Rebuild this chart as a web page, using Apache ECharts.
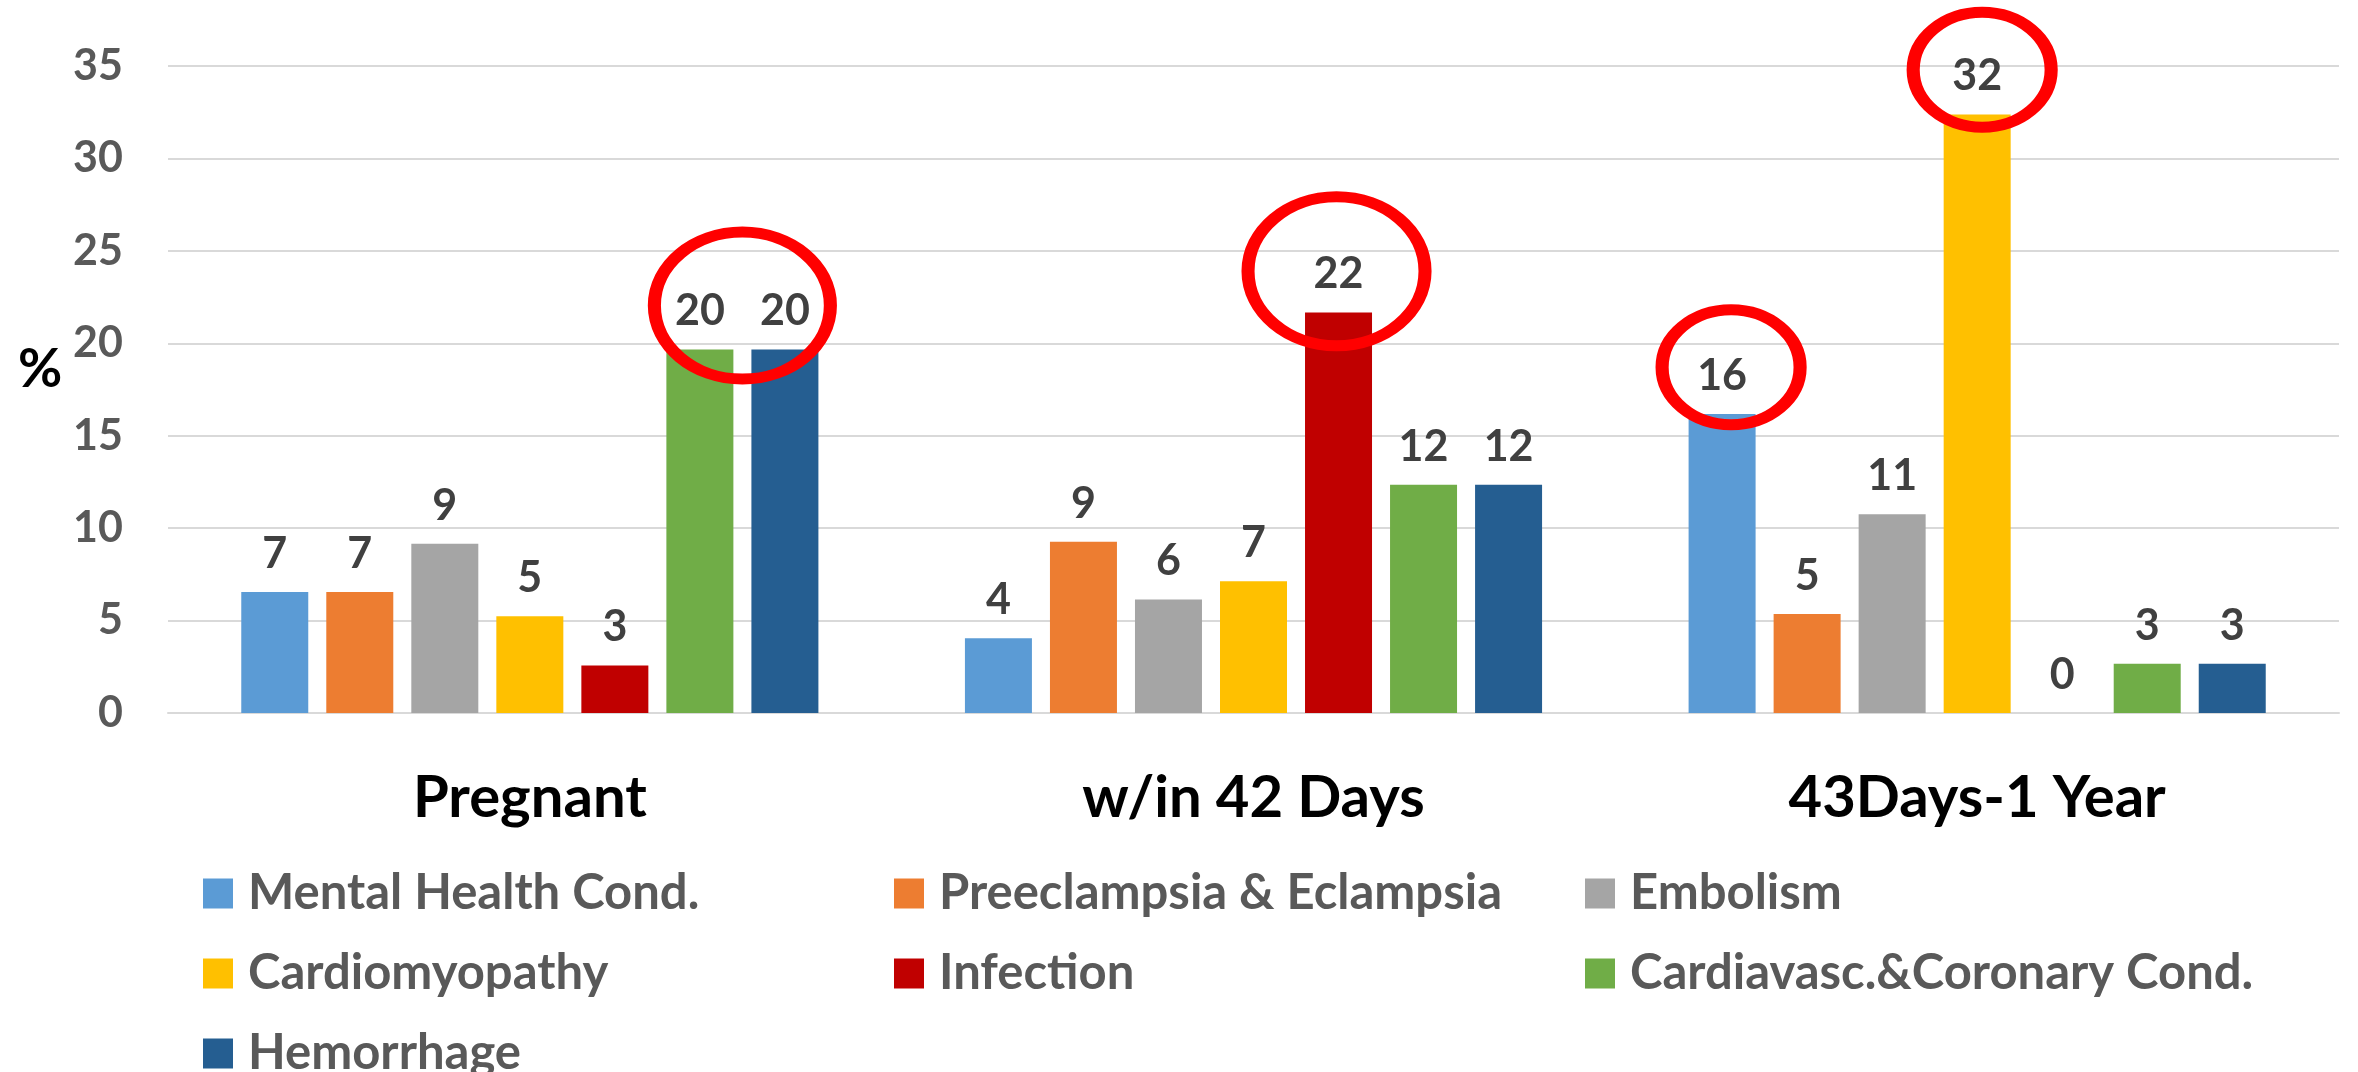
<!DOCTYPE html>
<html>
<head>
<meta charset="utf-8">
<script src="https://cdn.jsdelivr.net/npm/echarts@6/dist/echarts.min.js"></script>
<style>
  html, body { margin: 0; padding: 0; background: #fff; }
  #chart { width: 2358px; height: 1072px; }
</style>
</head>
<body>
<div id="chart"></div>
<script>
// data (labels show the rounded value)
const categories = ['Pregnant', 'w/in 42 Days', '43Days-1 Year'];
const mentalHealth = [6.55, 4.04, 16.17];
const preeclampsia = [6.55, 9.26, 5.35];
const embolism = [9.15, 6.14, 10.75];
const cardiomyopathy = [5.24, 7.13, 32.38];
const infection = [2.57, 21.67, 0];
const cardiovasc = [19.67, 12.35, 2.67];
const hemorrhage = [19.67, 12.35, 2.67];
const yTicks = [0, 5, 10, 15, 20, 25, 30, 35];

const FONT = 'Lato';
const barW = 67;
const gapPx = 18;
const ellipse = 'path://M0,50 C0,22.4 22.4,0 50,0 C77.6,0 100,22.4 100,50 C100,77.6 77.6,100 50,100 C22.4,100 0,77.6 0,50 Z';

const chart = echarts.init(document.getElementById('chart'));

const ring = (coord, size, offset) => ({
  coord,
  symbol: ellipse,
  symbolSize: size,
  symbolOffset: [offset, 0],
  itemStyle: { color: 'rgba(0,0,0,0)', borderColor: '#FF0000', borderWidth: 12 },
  label: { show: false }
});

const bar = (name, data, color, rings) => ({
  name,
  type: 'bar',
  data,
  barWidth: barW,
  barGap: (gapPx / barW * 100).toFixed(1) + '%',
  itemStyle: { color },
  label: {
    show: true,
    position: 'top',
    distance: 17,
    color: '#404040',
    fontFamily: FONT,
    fontWeight: 'bold',
    fontSize: 43,
    lineHeight: 42,
    formatter: (p) => Math.round(p.value)
  },
  markPoint: rings ? { silent: true, z: 10, data: rings } : undefined
});

const legendText = {
  color: '#595959',
  fontFamily: FONT,
  fontWeight: 'bold',
  fontSize: 49,
  padding: [0, 0, 0, 10]
};
const legendBase = {
  orient: 'vertical',
  top: 864,
  height: 320,
  icon: 'rect',
  itemWidth: 30,
  itemHeight: 30,
  itemGap: 31,
  selectedMode: false,
  textStyle: legendText
};

chart.setOption({
  animation: false,
  backgroundColor: '#fff',
  grid: { left: 168, right: 19, top: 66, bottom: 359 },
  graphic: [{
    type: 'text',
    left: 18,
    top: 343,
    style: { text: '%', fontFamily: FONT, fontWeight: 'bold', fontSize: 54, fill: '#000' }
  }],
  legend: [
    Object.assign({ left: 198, data: ['Mental Health Cond.', 'Cardiomyopathy', 'Hemorrhage'] }, legendBase),
    Object.assign({ left: 889, data: ['Preeclampsia & Eclampsia', 'Infection'] }, legendBase),
    Object.assign({ left: 1580, data: ['Embolism', 'Cardiavasc.&Coronary Cond.'] }, legendBase)
  ],
  xAxis: {
    type: 'category',
    data: categories,
    axisLine: { show: true, lineStyle: { color: '#d9d9d9', width: 2 } },
    axisTick: { show: false },
    axisLabel: {
      color: '#000',
      fontFamily: FONT,
      fontWeight: 'bold',
      fontSize: 58,
      margin: 56
    }
  },
  yAxis: {
    type: 'value',
    min: yTicks[0],
    max: yTicks[yTicks.length - 1],
    interval: 5,
    axisLine: { show: false },
    axisTick: { show: false },
    axisLabel: {
      color: '#595959',
      fontFamily: FONT,
      fontWeight: 'bold',
      fontSize: 43,
      margin: 45
    },
    splitLine: { lineStyle: { color: '#d9d9d9', width: 2 } }
  },
  series: [
    bar('Mental Health Cond.', mentalHealth, '#5B9BD5', [ring(['43Days-1 Year', 18.7], [138, 115], 9)]),
    bar('Preeclampsia & Eclampsia', preeclampsia, '#ED7D31'),
    bar('Embolism', embolism, '#A5A5A5'),
    bar('Cardiomyopathy', cardiomyopathy, '#FFC000', [ring(['43Days-1 Year', 34.8], [138, 115], 5)]),
    bar('Infection', infection, '#C00000', [ring(['w/in 42 Days', 23.9], [177, 149], -2)]),
    bar('Cardiavasc.&Coronary Cond.', cardiovasc, '#70AD47', [ring(['Pregnant', 22.04], [176, 147], (barW + gapPx) / 2)]),
    bar('Hemorrhage', hemorrhage, '#255E91')
  ]
});

window.addEventListener('resize', () => chart.resize());
</script>
</body>
</html>
